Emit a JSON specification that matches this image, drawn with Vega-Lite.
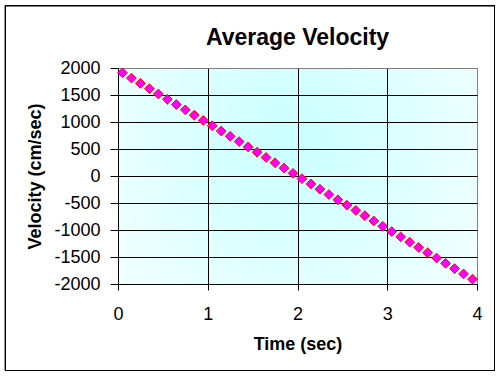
{
  "$schema": "https://vega.github.io/schema/vega-lite/v6.json",
  "width": 359,
  "height": 216,
  "autosize": {"type": "none"},
  "padding": {"left": 118, "top": 68, "right": 24, "bottom": 93},
  "background": "white",
  "title": {
    "text": "Average Velocity",
    "font": "Liberation Sans",
    "fontSize": 23,
    "fontWeight": "bold",
    "color": "black",
    "anchor": "middle",
    "baseline": "alphabetic",
    "offset": -63
  },
  "config": {
    "font": "Liberation Sans",
    "view": {
      "stroke": "#808080",
      "strokeWidth": 1,
      "fill": {
        "gradient": "radial",
        "x1": 0.48, "y1": 0.4, "r1": 0,
        "x2": 0.48, "y2": 0.4, "r2": 0.72,
        "stops": [
          {"offset": 0, "color": "#c8ffff"},
          {"offset": 1, "color": "#f8ffff"}
        ]
      }
    },
    "axis": {
      "labelFont": "Liberation Sans",
      "labelFontSize": 18,
      "labelColor": "black",
      "titleFont": "Liberation Sans",
      "titleFontSize": 18,
      "titleFontWeight": "bold",
      "titleColor": "black",
      "domainColor": "black",
      "domainWidth": 1,
      "tickColor": "black",
      "tickWidth": 1,
      "gridWidth": 1,
      "gridOpacity": 1
    }
  },
  "data": {
    "values": [
      {"t": 0.05, "v": 1911}, {"t": 0.15, "v": 1813}, {"t": 0.25, "v": 1715}, {"t": 0.35, "v": 1617},
      {"t": 0.45, "v": 1519}, {"t": 0.55, "v": 1421}, {"t": 0.65, "v": 1323}, {"t": 0.75, "v": 1225},
      {"t": 0.85, "v": 1127}, {"t": 0.95, "v": 1029}, {"t": 1.05, "v": 931}, {"t": 1.15, "v": 833},
      {"t": 1.25, "v": 735}, {"t": 1.35, "v": 637}, {"t": 1.45, "v": 539}, {"t": 1.55, "v": 441},
      {"t": 1.65, "v": 343}, {"t": 1.75, "v": 245}, {"t": 1.85, "v": 147}, {"t": 1.95, "v": 49},
      {"t": 2.05, "v": -49}, {"t": 2.15, "v": -147}, {"t": 2.25, "v": -245}, {"t": 2.35, "v": -343},
      {"t": 2.45, "v": -441}, {"t": 2.55, "v": -539}, {"t": 2.65, "v": -637}, {"t": 2.75, "v": -735},
      {"t": 2.85, "v": -833}, {"t": 2.95, "v": -931}, {"t": 3.05, "v": -1029}, {"t": 3.15, "v": -1127},
      {"t": 3.25, "v": -1225}, {"t": 3.35, "v": -1323}, {"t": 3.45, "v": -1421}, {"t": 3.55, "v": -1519},
      {"t": 3.65, "v": -1617}, {"t": 3.75, "v": -1715}, {"t": 3.85, "v": -1813}, {"t": 3.95, "v": -1911}
    ]
  },
  "encoding": {
    "x": {
      "field": "t",
      "type": "quantitative",
      "scale": {"domain": [0, 4], "nice": false, "zero": false},
      "axis": {
        "title": "Time (sec)",
        "values": [0, 1, 2, 3, 4],
        "labelExpr": "'' + datum.value",
        "labelOverlap": false,
        "tickSize": 6,
        "labelPadding": 15,
        "titlePadding": 12,
        "grid": true,
        "gridColor": {"condition": {"test": "datum.value == 4", "value": "#808080"}, "value": "black"},
        "labelFlush": false
      }
    },
    "y": {
      "field": "v",
      "type": "quantitative",
      "scale": {"domain": [-2000, 2000], "nice": false, "zero": false},
      "axis": {
        "title": "Velocity (cm/sec)",
        "values": [-2000, -1500, -1000, -500, 0, 500, 1000, 1500, 2000],
        "labelExpr": "'' + datum.value",
        "labelOverlap": false,
        "tickSize": 8,
        "labelPadding": 10,
        "titlePadding": 9,
        "grid": true,
        "gridColor": {"condition": {"test": "datum.value == 2000", "value": "#808080"}, "value": "black"},
        "labelFlush": false
      }
    }
  },
  "layer": [
    {
      "mark": {"type": "point", "shape": "diamond", "size": 95, "filled": true, "fill": "#ff00ff", "stroke": "#ff0000", "strokeWidth": 1, "opacity": 1}
    },
    {
      "mark": {"type": "rect", "fill": null, "stroke": "black", "strokeWidth": 1, "clip": false},
      "encoding": {
        "x": {"datum": -1.2535, "type": "quantitative"},
        "x2": {"datum": 4.195},
        "y": {"datum": 3157, "type": "quantitative"},
        "y2": {"datum": -3602}
      }
    }
  ]
}
